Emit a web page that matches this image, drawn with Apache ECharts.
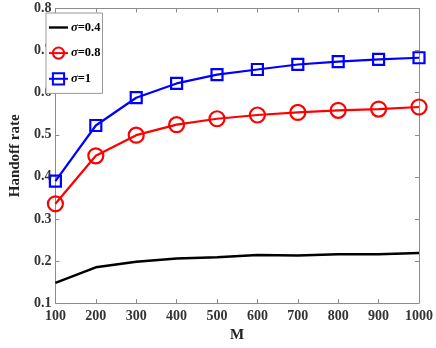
<!DOCTYPE html>
<html><head><meta charset="utf-8">
<script src="https://cdn.jsdelivr.net/npm/echarts@6/dist/echarts.min.js"></script>
<style>html,body{margin:0;padding:0;background:#fff}#c{width:436px;height:348px}</style>
</head><body><div id="c"></div>
<script>
const M = [100,200,300,400,500,600,700,800,900,1000];
const s04 = [0.148,0.185,0.198,0.206,0.209,0.214,0.213,0.216,0.216,0.219];
const s08 = [0.336,0.450,0.499,0.524,0.538,0.547,0.553,0.558,0.561,0.566];
const s1  = [0.390,0.522,0.588,0.622,0.643,0.655,0.667,0.674,0.679,0.683];
const names = ['σ=0.4','σ=0.8','σ=1'];
const F = 'Liberation Serif';
const axisCol = '#8c8c8c';
const pairs = a => M.map((m,i)=>[m,a[i]]);
const chart = echarts.init(document.getElementById('c'));
const xBase = {type:'value',min:100,max:1000,interval:100,
  axisLine:{onZero:false,lineStyle:{color:axisCol,width:1}},
  axisTick:{inside:true,length:4,lineStyle:{color:axisCol}},
  splitLine:{show:false}};
const yBase = {type:'value',min:0.1,max:0.8,interval:0.1,
  axisLine:{show:true,onZero:false,lineStyle:{color:axisCol,width:1}},
  axisTick:{show:true,inside:true,length:4,lineStyle:{color:axisCol}},
  splitLine:{show:false}};
chart.setOption({
  animation:false,
  grid:{left:40,right:14.5,top:8.5,bottom:38},
  xAxis:[
    Object.assign({},xBase,{position:'bottom',name:'M',nameLocation:'middle',nameGap:23,
      nameTextStyle:{fontFamily:F,fontWeight:'bold',fontSize:15,color:'#222'},
      axisLabel:{fontFamily:F,fontWeight:'bold',fontSize:14,color:'#333',margin:6,
        formatter:v=>String(v)}}),
    Object.assign({},xBase,{position:'top',axisLabel:{show:false}})
  ],
  yAxis:[
    Object.assign({},yBase,{position:'left',name:'Handoff rate',nameLocation:'middle',nameGap:31,
      nameTextStyle:{fontFamily:F,fontWeight:'bold',fontSize:15,color:'#222'},
      axisLabel:{fontFamily:F,fontWeight:'bold',fontSize:14,color:'#333',margin:4,
        formatter:v=>v.toFixed(1)}}),
    Object.assign({},yBase,{position:'right',axisLabel:{show:false}})
  ],
  legend:{
    orient:'vertical',left:46,top:13,padding:[8,2,8,2],itemGap:12.5,
    borderColor:'#999',borderWidth:1,backgroundColor:'#fff',
    itemWidth:19,itemHeight:14,
    data:[{name:names[0],icon:'path://M0,0H40V5H0Z'},names[1],names[2]],
    formatter:n=>'{i|σ}{b|'+n.slice(1)+'}',
    textStyle:{padding:[0,0,0,-2],rich:{
      i:{fontFamily:F,fontStyle:'italic',fontWeight:'bold',fontSize:12.5,color:'#000'},
      b:{fontFamily:F,fontWeight:'bold',fontSize:12.5,color:'#000'}}}
  },
  series:[
    {name:names[0],type:'line',data:pairs(s04),symbol:'none',
      lineStyle:{color:'#000',width:2.5},itemStyle:{color:'#000'}},
    {name:names[1],type:'line',data:pairs(s08),symbol:'circle',symbolSize:15,
      lineStyle:{color:'#ff0000',width:2.2},
      itemStyle:{color:'rgba(255,255,255,0)',borderColor:'#ff0000',borderWidth:2.2}},
    {name:names[2],type:'line',data:pairs(s1),symbol:'rect',symbolSize:11,
      lineStyle:{color:'#0000ff',width:2.2},
      itemStyle:{color:'rgba(255,255,255,0)',borderColor:'#0000ff',borderWidth:2.2}}
  ]
});
</script></body></html>
